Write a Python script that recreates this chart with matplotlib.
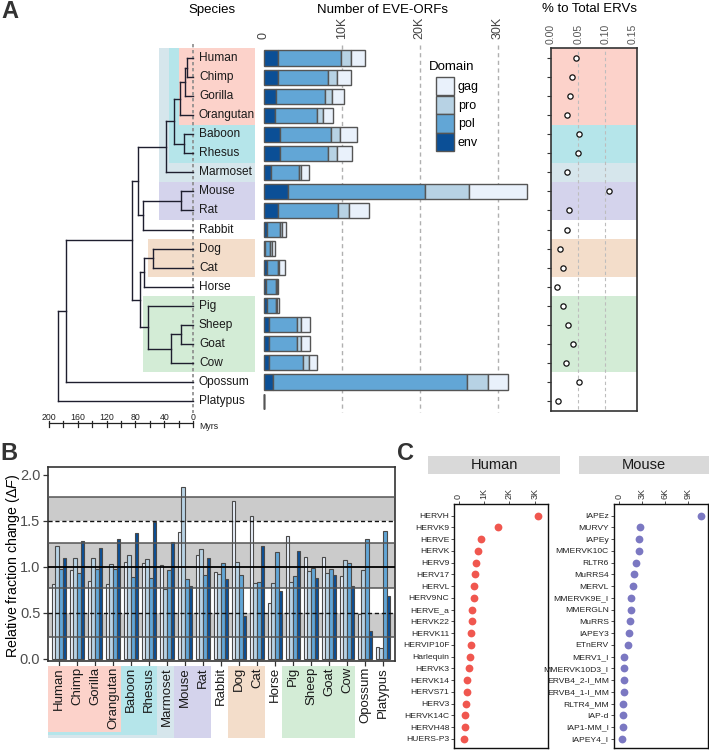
import numpy as np
import matplotlib
matplotlib.use("Agg")
import matplotlib.pyplot as plt
from matplotlib.patches import Patch, Rectangle

plt.rcParams['font.family'] = ['Liberation Sans', 'DejaVu Sans']
plt.rcParams['mathtext.fontset'] = 'custom'
plt.rcParams['mathtext.rm'] = 'Liberation Sans'
plt.rcParams['mathtext.it'] = 'Liberation Sans:italic'

W, H = 709, 750

species = ["Human", "Chimp", "Gorilla", "Orangutan", "Baboon", "Rhesus", "Marmoset",
           "Mouse", "Rat", "Rabbit", "Dog", "Cat", "Horse", "Pig", "Sheep", "Goat",
           "Cow", "Opossum", "Platypus"]

# tree: (clade, age in Myr, children)
clades = [
    ("HC", 8, ["Human", "Chimp"]),
    ("HCG", 11, ["HC", "Gorilla"]),
    ("Apes", 18, ["HCG", "Orangutan"]),
    ("OWM", 12, ["Baboon", "Rhesus"]),
    ("Catarrhini", 27, ["Apes", "OWM"]),
    ("Primates", 37, ["Catarrhini", "Marmoset"]),
    ("Rodents", 16, ["Mouse", "Rat"]),
    ("Glires", 69, ["Rodents", "Rabbit"]),
    ("Euarch", 76, ["Primates", "Glires"]),
    ("Carnivora", 55, ["Dog", "Cat"]),
    ("CarnHorse", 68, ["Carnivora", "Horse"]),
    ("SheepGoat", 16, ["Sheep", "Goat"]),
    ("Ruminants", 31, ["SheepGoat", "Cow"]),
    ("Cetart", 62, ["Pig", "Ruminants"]),
    ("Laur", 74, ["CarnHorse", "Cetart"]),
    ("Boreo", 85, ["Euarch", "Laur"]),
    ("Theria", 177, ["Boreo", "Opossum"]),
    ("Mammalia", 188, ["Theria", "Platypus"]),
]

# number of EVE-ORFs per domain (thousands)
env = [1.8, 1.8, 1.54, 1.45, 2.05, 2.05, 0.94, 3.08, 1.8, 0.38, 0.2, 0.43, 0.26, 0.38, 0.68, 0.68, 0.68, 1.15, 0.02]
pol = [8.07, 6.49, 6.28, 5.43, 6.63, 6.24, 3.55, 17.62, 7.73, 1.76, 0.65, 1.36, 1.28, 1.16, 3.64, 3.64, 4.41, 24.85, 0.03]
pro = [1.37, 1.07, 0.98, 0.77, 1.15, 1.07, 0.34, 5.6, 1.45, 0.21, 0.22, 0.18, 0.13, 0.17, 0.47, 0.47, 0.68, 2.7, 0.005]
gag = [1.79, 1.88, 1.5, 1.28, 2.17, 2.01, 1.02, 7.5, 2.57, 0.47, 0.34, 0.72, 0.21, 0.29, 1.15, 1.15, 1.03, 2.6, 0.005]

pct_total = [0.046, 0.039, 0.036, 0.030, 0.052, 0.050, 0.029, 0.106, 0.034, 0.029,
             0.017, 0.022, 0.012, 0.023, 0.031, 0.040, 0.027, 0.052, 0.014]

# relative fraction change per domain
dF_gag = [0.81, 0.96, 0.84, 0.81, 1.05, 1.04, 1.02, 1.38, 1.13, 0.94, 1.71, 1.55, 0.61, 1.33, 1.11, 1.11, 0.90, 0.49, 0.13]
dF_pro = [1.23, 1.09, 1.09, 1.03, 1.13, 1.08, 0.76, 1.87, 1.19, 0.92, 1.05, 0.82, 0.82, 0.83, 0.95, 0.93, 1.07, 0.96, 0.12]
dF_pol = [0.98, 0.93, 0.97, 0.97, 0.89, 0.88, 0.96, 0.87, 0.91, 1.04, 0.91, 0.83, 1.16, 0.90, 0.99, 0.98, 1.04, 1.30, 1.39]
dF_env = [1.10, 1.28, 1.20, 1.30, 1.37, 1.49, 1.27, 0.79, 1.09, 0.87, 0.46, 1.22, 0.74, 1.17, 0.88, 0.91, 0.79, 0.30, 0.68]

human_erv = ["HERVH", "HERVK9", "HERVE", "HERVK", "HERV9", "HERV17", "HERVL", "HERV9NC",
             "HERVE_a", "HERVK22", "HERVK11", "HERVIP10F", "Harlequin", "HERVK3", "HERVK14",
             "HERVS71", "HERV3", "HERVK14C", "HERVH48", "HUERS-P3"]
human_cnt = [3.12, 1.555, 0.886, 0.78, 0.69, 0.64, 0.625, 0.61, 0.545, 0.545, 0.505, 0.48,
             0.44, 0.413, 0.335, 0.32, 0.31, 0.256, 0.256, 0.23]
mouse_erv = ["IAPEz", "MURVY", "IAPEy", "MMERVK10C", "RLTR6", "MuRRS4", "MERVL", "MMERVK9E_I",
             "MMERGLN", "MuRRS", "IAPEY3", "ETnERV", "MERV1_I", "MMERVK10D3_I", "ERVB4_2-I_MM",
             "ERVB4_1-I_MM", "RLTR4_MM", "IAP-d", "IAP1-MM_I", "IAPEY4_I"]
mouse_cnt = [10.75, 2.68, 2.64, 2.64, 2.15, 1.89, 1.85, 1.54, 1.5, 1.41, 1.28, 1.1, 0.58,
             0.58, 0.57, 0.57, 0.54, 0.5, 0.45, 0.4]

# colours
c_env, c_pol, c_pro, c_gag = '#0b4f96', '#62a6d6', '#b7d2e4', '#e9f1fb'
edge = '#555555'
pink, cyan, lightb, lav, peach, green = '#fcd2ca', '#b5e5ea', '#d6e6ec', '#d4d3ec', '#f3ddca', '#d3ecd6'
# (first row, last row, left edge px in tree panel, colour)
groups = [(0, 6, 159, lightb), (0, 5, 169, cyan), (0, 3, 179, pink),
          (7, 8, 159, lav), (10, 11, 148, peach), (13, 16, 143, green)]

fig = plt.figure(figsize=(W / 100, H / 100), dpi=100)


def px_axes(l, t, r, b):
    return fig.add_axes([l / W, 1 - b / H, (r - l) / W, (b - t) / H])


ROW0, ROWH = 58, 19.06
rows = np.arange(len(species))


def row_lim(t, b):
    return ((b - ROW0) / ROWH, (t - ROW0) / ROWH)


# ---------------- A: tree ----------------
X0, PXM = 193, 0.72
axt = px_axes(40, 40, 262, 435)
axt.set_xlim((40 - X0) / PXM, (262 - X0) / PXM)
axt.set_ylim(*row_lim(40, 435))
axt.axis('off')

xr = (260 - X0) / PXM
for i0, i1, lpx, col in groups:
    x0 = (lpx - X0) / PXM
    axt.add_patch(Rectangle((x0, i0 - 0.5), xr - x0, i1 - i0 + 1, color=col, lw=0, zorder=0))

tc = '#1e1e2e'
ypos = {s: i for i, s in enumerate(species)}
age = {s: 0 for s in species}
for name, a, kids in clades:
    ys = [ypos[k] for k in kids]
    axt.plot([-a, -a], [min(ys), max(ys)], color=tc, lw=1, solid_capstyle='projecting', zorder=3)
    for k in kids:
        axt.plot([-a, -age[k]], [ypos[k], ypos[k]], color=tc, lw=1, solid_capstyle='projecting', zorder=3)
    ypos[name] = (min(ys) + max(ys)) / 2
    age[name] = a

axt.plot([0, 0], [-0.75, 18.6], color='#8a8a8a', lw=1.2, ls=(0, (2, 1.6)), zorder=2)
for i, s in enumerate(species):
    axt.text(8.3, i, s, va='center', ha='left', fontsize=8.6, color='#1a1a1a', zorder=4)

sb = (423.5 - ROW0) / ROWH
axt.plot([-200, 0], [sb, sb], color='#222', lw=0.9)
for t in range(0, 201, 20):
    axt.plot([-t, -t], [sb - 0.15, sb + 0.2], color='#222', lw=0.9)
for t in range(0, 201, 40):
    axt.text(-t, sb - 0.32, str(t), ha='center', va='center', fontsize=6.3, color='#222')
axt.text(8.3, sb + 0.15, 'Myrs', ha='left', va='center', fontsize=6.3, color='#222')

fig.text(212 / W, 1 - 10 / H, 'Species', ha='center', va='center', fontsize=9.5)

# ---------------- A: EVE-ORF bars ----------------
B0, PXK = 263.7, 7.8
axb = px_axes(255, 40, 530, 435)
axb.set_xlim((255 - B0) / PXK, (530 - B0) / PXK)
axb.set_ylim(*row_lim(40, 435))
for s in axb.spines.values():
    s.set_visible(False)
axb.vlines([10, 20, 30], -0.68, 18.57, color='#b0b0b0', lw=1, linestyles=(0, (3, 2.5)), zorder=0)
left = np.zeros(len(species))
for vals, col in [(env, c_env), (pol, c_pol), (pro, c_pro), (gag, c_gag)]:
    axb.barh(rows, vals, left=left, height=0.79, color=col, edgecolor=edge, lw=1, zorder=2)
    left = left + np.array(vals)
axb.xaxis.set_ticks_position('top')
axb.set_xticks([0, 10, 20, 30])
axb.set_xticklabels(['0', '10K', '20K', '30K'], rotation=90, fontsize=9, color='#444')
axb.tick_params(axis='x', length=0, pad=1)
axb.set_yticks([])
fig.text(382 / W, 1 - 10 / H, 'Number of EVE-ORFs', ha='center', va='center', fontsize=9.5)

fig.text(429 / W, 1 - 66.7 / H, 'Domain', ha='left', va='center', fontsize=9.5)
handles = [Patch(facecolor=c, edgecolor=edge, lw=1, label=l)
           for c, l in [(c_gag, 'gag'), (c_pro, 'pro'), (c_pol, 'pol'), (c_env, 'env')]]
axb.legend(handles=handles, loc='upper left', bbox_to_anchor=(436 / W, 1 - 77 / H),
           bbox_transform=fig.transFigure, frameon=False, fontsize=9, borderpad=0,
           borderaxespad=0, handlelength=1.4, handleheight=1.85, labelspacing=0.05,
           handletextpad=0.35)

# ---------------- A: % to total ERVs ----------------
D0, PXD = 550.8, 546.7
axd = px_axes(550.5, 48.3, 636.5, 411)
axd.set_xlim((550.5 - D0) / PXD, (636.5 - D0) / PXD)
axd.set_ylim(*row_lim(48.3, 411))
for i0, i1, lpx, col in groups:
    axd.axhspan(i0 - 0.5, i1 + 0.5, color=col, lw=0, zorder=0)
axd.vlines([0.05, 0.10], -1, 19, color='#bdbdbd', lw=0.8, linestyles=(0, (3, 2.5)), zorder=1)
axd.plot(pct_total, rows, 'o', mfc='white', mec='#111', ms=3.8, mew=0.9, zorder=3)
axd.xaxis.set_ticks_position('top')
axd.set_xticks([0, 0.05, 0.10, 0.15])
axd.set_xticklabels(['0.00', '0.05', '0.10', '0.15'], rotation=90, fontsize=7.5, color='#555')
axd.tick_params(axis='x', length=0, pad=3)
axd.set_yticks(rows)
axd.set_yticklabels([])
axd.tick_params(axis='y', length=3, width=0.8, color='#333')
for s in axd.spines.values():
    s.set_color('#333')
    s.set_linewidth(1.2)
fig.text(590 / W, 1 - 9 / H, '% to Total ERVs', ha='center', va='center', fontsize=9.5)

# ---------------- B ----------------
Y0, PXY = 658.7, 92
G0, PXG = 59, 18
axB = px_axes(48, 466.7, 395, 661)
axB.set_xlim((48 - G0) / PXG, (395 - G0) / PXG)
axB.set_ylim((Y0 - 661) / PXY, (Y0 - 466.7) / PXY)
for y0, y1 in [(0.24, 0.5), (0.765, 1.255), (1.5, 1.758)]:
    axB.axhspan(y0, y1, color='#cbcbcb', lw=0, zorder=0)
offs = [-0.3, -0.1, 0.1, 0.3]
for k, (vals, col) in enumerate([(dF_gag, c_gag), (dF_pro, c_pro), (dF_pol, c_pol), (dF_env, c_env)]):
    axB.bar(rows + offs[k], vals, width=0.19, color=col, edgecolor='#4a4a4a', lw=0.8, zorder=2)
axB.hlines([0.24, 0.765, 1.255, 1.758], -1, 20, color='#555', lw=1.1, zorder=3)
axB.hlines([0.5, 1.5], -1, 20, color='#111', lw=1, linestyles=(0, (3, 2)), zorder=3)
axB.hlines([1.0], -1, 20, color='#000', lw=1.3, zorder=3)
axB.set_yticks([0, 0.5, 1.0, 1.5, 2.0])
axB.set_yticklabels(['0.0', '0.5', '1.0', '1.5', '2.0'], fontsize=10.5, color='#4d4d4d')
axB.set_xticks(rows)
axB.set_xticklabels([])
axB.tick_params(length=3.5, width=0.9, color='#333', pad=2)
axB.set_ylabel(r'Relative fraction change ($\mathit{\Delta F}$)', fontsize=10.2)
axB.yaxis.set_label_coords((22 - 48) / 347, 0.49)
for s in axB.spines.values():
    s.set_color('#333')
    s.set_linewidth(1.2)

axL = px_axes(48, 663, 395, 740)
axL.set_xlim((48 - G0) / PXG, (395 - G0) / PXG)
axL.set_ylim(77, 0)
axL.axis('off')
bottoms = {pink: 68.7, cyan: 72, lightb: 75, lav: 75, peach: 75, green: 75}
for i0, i1, lpx, col in groups:
    axL.add_patch(Rectangle((i0 - 0.6, 3), i1 - i0 + 1.05, bottoms[col] - 3, color=col, lw=0))
for i, s in enumerate(species):
    axL.text(i, 4, s, rotation=90, ha='center', va='top', fontsize=9.5, color='#1a1a1a')

# ---------------- C ----------------
CR0, CRH = 515.7, 11.75
crow = np.arange(len(human_erv))


def c_panel(l, r, zero_px, pxk, names, vals, col, ticks, tlabels):
    ax = px_axes(l, 504, r, 748)
    ax.set_xlim((l - zero_px) / pxk, (r - zero_px) / pxk)
    ax.set_ylim((748 - CR0) / CRH, (504 - CR0) / CRH)
    ax.plot(vals, crow, 'o', color=col, ms=5.6, mew=0, zorder=3)
    ax.xaxis.set_ticks_position('top')
    ax.set_xticks(ticks)
    ax.set_xticklabels(tlabels, rotation=90, fontsize=6.5, color='#333')
    ax.set_yticks(crow)
    ax.set_yticklabels(names, fontsize=6.1, color='#222')
    ax.tick_params(length=2, width=0.6, color='#333', pad=1.5)
    for s in ax.spines.values():
        s.set_color('#111')
        s.set_linewidth(1)
    return ax


c_panel(454.3, 547.7, 458.5, 25.4, human_erv, human_cnt, '#f0574f', [0, 1, 2, 3], ['0', '1K', '2K', '3K'])
c_panel(613.7, 708, 619.3, 7.6, mouse_erv, mouse_cnt, '#7b78c2', [0, 3, 6, 9], ['0', '3K', '6K', '9K'])

for l, r, lab in [(428, 560, 'Human'), (579, 709, 'Mouse')]:
    axs = px_axes(l, 456, r, 474)
    axs.set_facecolor('#d9d9d9')
    axs.set_xticks([])
    axs.set_yticks([])
    for s in axs.spines.values():
        s.set_visible(False)
    axs.text(0.5, 0.5, lab, ha='center', va='center', fontsize=10.5, color='#1a1a1a',
             transform=axs.transAxes)

# panel letters
for x, y, t in [(10, 11, 'A'), (9, 454, 'B'), (405, 453, 'C')]:
    fig.text(x / W, 1 - y / H, t, ha='center', va='center', fontsize=17, fontweight='bold', color='#333')

fig.savefig('out.png', dpi=100)
